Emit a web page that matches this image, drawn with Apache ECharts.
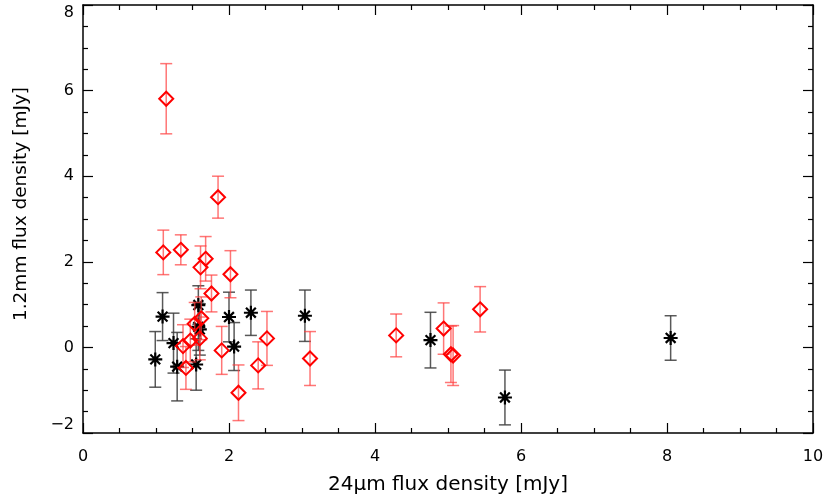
<!DOCTYPE html>
<html>
<head>
<meta charset="utf-8">
<script src="https://cdn.jsdelivr.net/npm/echarts@6/dist/echarts.min.js"></script>
<style>
  html, body { margin: 0; padding: 0; background: #fff; }
  #chart { width: 830px; height: 498px; }
</style>
</head>
<body>
<div id="chart"></div>
<script>
// red diamonds: x (24um), y (1.2mm), 1-sigma error
var redX   = [1.14, 1.85, 1.10, 1.34, 1.68, 1.61, 2.02, 1.76, 1.62, 1.53, 1.60, 1.47, 1.37, 1.41, 1.90, 2.52, 2.40, 2.13, 3.11, 4.29, 4.94, 5.04, 5.07, 5.44];
var redY   = [5.81, 3.51, 2.22, 2.28, 2.07, 1.87, 1.71, 1.26, 0.68, 0.55, 0.21, 0.16, 0.03, -0.48, -0.07, 0.21, -0.42, -1.06, -0.26, 0.28, 0.44, -0.16, -0.19, 0.89];
var redErr = [0.82, 0.49, 0.52, 0.35, 0.52, 0.50, 0.55, 0.43, 0.50, 0.50, 0.50, 0.50, 0.50, 0.50, 0.56, 0.63, 0.55, 0.65, 0.63, 0.50, 0.60, 0.66, 0.70, 0.53];

// black asterisks
var blkX   = [0.99, 1.09, 1.24, 1.29, 1.55, 1.58, 1.60, 1.58, 2.00, 2.07, 2.30, 3.04, 4.76, 5.78, 8.05];
var blkY   = [-0.28, 0.72, 0.10, -0.45, -0.40, 0.99, 0.42, 0.48, 0.71, 0.02, 0.81, 0.74, 0.17, -1.17, 0.22];
var blkErr = [0.65, 0.56, 0.70, 0.80, 0.60, 0.45, 0.60, 0.55, 0.58, 0.56, 0.53, 0.60, 0.65, 0.64, 0.52];

var xTicks = [0, 2, 4, 6, 8, 10];
var yTicks = [-2, 0, 2, 4, 6, 8];

function pts(xs, ys) {
  return xs.map(function (x, i) { return [x, ys[i]]; });
}
function bars(xs, ys, es) {
  return xs.map(function (x, i) { return [x, ys[i] - es[i], ys[i] + es[i]]; });
}

function errRender(color) {
  return function (params, api) {
    var lo = api.coord([api.value(0), api.value(1)]);
    var hi = api.coord([api.value(0), api.value(2)]);
    var w = 6;
    var style = { stroke: color, lineWidth: 1.5 };
    return {
      type: 'group',
      children: [
        { type: 'line', shape: { x1: lo[0], y1: lo[1], x2: hi[0], y2: hi[1] }, style: style },
        { type: 'line', shape: { x1: lo[0] - w, y1: lo[1], x2: lo[0] + w, y2: lo[1] }, style: style },
        { type: 'line', shape: { x1: hi[0] - w, y1: hi[1], x2: hi[0] + w, y2: hi[1] }, style: style }
      ]
    };
  };
}

var font = 'DejaVu Sans, Verdana, sans-serif';
var tickLabel = function (v) { return v < 0 ? '\u2212' + Math.abs(v) : String(v); };

var baseAxis = {
  axisLine: { show: true, onZero: false, lineStyle: { color: '#000', width: 1.5 } },
  axisTick: { show: true, inside: true, length: 10, lineStyle: { color: '#000', width: 1.2 } },
  minorTick: { show: true, splitNumber: 4, length: 5, lineStyle: { color: '#000', width: 1.2 } },
  splitLine: { show: false },
  minorSplitLine: { show: false }
};

var myChart = echarts.init(document.getElementById('chart'));
var option = {
  backgroundColor: '#fff',
  animation: false,
  grid: { left: 83, right: 17, top: 5, bottom: 65, outerBoundsMode: 'none' },
  xAxis: [
    Object.assign({}, baseAxis, {
      type: 'value', min: xTicks[0], max: xTicks[xTicks.length - 1], interval: 2,
      name: '24\u03bcm flux density [mJy]', nameLocation: 'middle', nameGap: 42,
      nameTextStyle: { color: '#000', fontSize: 20, fontFamily: font },
      axisLabel: { color: '#000', fontSize: 16, fontFamily: font, margin: 16, formatter: tickLabel }
    }),
    Object.assign({}, baseAxis, {
      type: 'value', position: 'top', min: xTicks[0], max: xTicks[xTicks.length - 1], interval: 2,
      axisLabel: { show: false }
    })
  ],
  yAxis: [
    Object.assign({}, baseAxis, {
      type: 'value', min: yTicks[0], max: yTicks[yTicks.length - 1], interval: 2,
      name: '1.2mm flux density [mJy]', nameLocation: 'middle', nameGap: 52,
      nameTextStyle: { color: '#000', fontSize: 18.5, fontFamily: font, padding: [0, 0, 0, 30] },
      axisLabel: {
        color: '#000', fontSize: 16, fontFamily: font, margin: 9, formatter: tickLabel,
        verticalAlignMaxLabel: 'top', verticalAlignMinLabel: 'bottom'
      }
    }),
    Object.assign({}, baseAxis, {
      type: 'value', position: 'right', min: yTicks[0], max: yTicks[yTicks.length - 1], interval: 2,
      axisLabel: { show: false }
    })
  ],
  series: [
    {
      type: 'custom', renderItem: errRender('rgba(60,60,60,0.85)'),
      data: bars(blkX, blkY, blkErr), z: 2
    },
    {
      type: 'scatter', data: pts(blkX, blkY), z: 3,
      symbol: 'path://M5,0L5,10M0,5L10,5M1.5,1.5L8.5,8.5M8.5,1.5L1.5,8.5',
      symbolSize: 14,
      itemStyle: { color: 'none', borderColor: '#000', borderWidth: 2.2, opacity: 1 }
    },
    {
      type: 'custom', renderItem: errRender('rgba(255,60,60,0.7)'),
      data: bars(redX, redY, redErr), z: 4
    },
    {
      type: 'scatter', data: pts(redX, redY), z: 5,
      symbol: 'diamond', symbolSize: [14, 14],
      itemStyle: { color: 'rgba(255,255,255,0)', borderColor: '#ff0000', borderWidth: 2, opacity: 1 }
    }
  ]
};
myChart.setOption(option);
</script>
</body>
</html>
